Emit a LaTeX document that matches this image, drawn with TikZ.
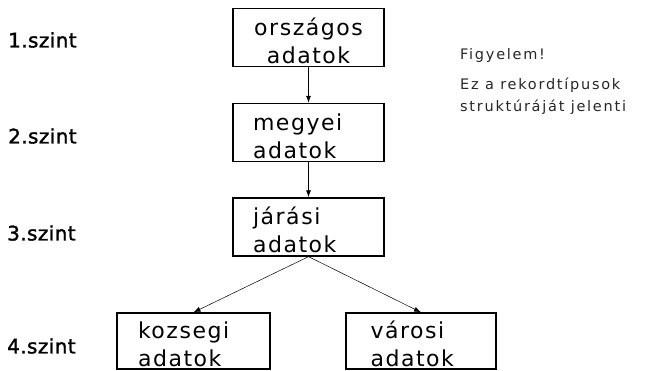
\documentclass[tikz,border=0pt]{standalone}
\usepackage{fontspec}
\setmainfont{DejaVu Sans}
\newfontfamily\boxfont[LetterSpace=7]{DejaVu Sans}
\newfontfamily\lvlfont[LetterSpace=2,FakeBold=1.6]{DejaVu Sans}
\newfontfamily\notefont[LetterSpace=12]{DejaVu Sans}
\usetikzlibrary{arrows.meta}
\begin{document}
\begin{tikzpicture}[x=1pt,y=-1pt,
  recbox/.style={draw,line width=1.3pt,minimum width=151pt,minimum height=58pt,
    inner xsep=0pt,inner ysep=0pt,text width=111pt,align=left,
    font={\boxfont\fontsize{22}{28}\selectfont}},
  lvl/.style={anchor=west,inner sep=0pt,font={\lvlfont\fontsize{20}{24}\selectfont}},
  note/.style={anchor=base west,inner sep=0pt,text=black!85,
    font={\notefont\fontsize{14.5}{22}\selectfont}},
  conn/.style={line width=0.8pt,-{Latex[length=7pt,width=5pt]}},
  diag/.style={line width=0.5pt,-{Latex[length=7pt,width=5pt]}}]
\useasboundingbox (0,0) rectangle (648,371);
% boxes
\node[recbox,align=center] (b1) at (308.5,37.5) {\rule{0pt}{24pt}országos\\adatok};
\node[recbox] (b2) at (308.5,132.5) {\rule{0pt}{24pt}megyei\\adatok};
\node[recbox] (b3) at (308.5,227) {\rule{0pt}{24pt}járási\\adatok};
\node[recbox,minimum width=153pt,minimum height=56pt] (b4) at (193.5,341) {\rule{0pt}{24pt}kozsegi\\adatok};
\node[recbox,minimum width=150pt,minimum height=56pt] (b5) at (421,341) {\rule{0pt}{24pt}\hspace*{5pt}városi\\\hspace*{5pt}adatok};
% connectors
\draw[conn] (b1.south) -- (b2.north);
\draw[conn] (b2.south) -- (b3.north);
\draw[diag] (b3.south) -- (b4.north);
\draw[diag] (b3.south) -- (b5.north);
% level labels
\node[lvl] (l1) at (8,40) {1.szint};
\node[lvl] (l2) at (8,136) {2.szint};
\node[lvl] (l3) at (7,233) {3.szint};
\node[lvl] (l4) at (7,346) {4.szint};
% note
\node[note] (n1) at (460,60) {Figyelem!};
\node[note] (n2) at (460,90) {Ez a rekordtípusok};
\node[note] (n3) at (460,112) {struktúráját jelenti};
\end{tikzpicture}
\end{document}
